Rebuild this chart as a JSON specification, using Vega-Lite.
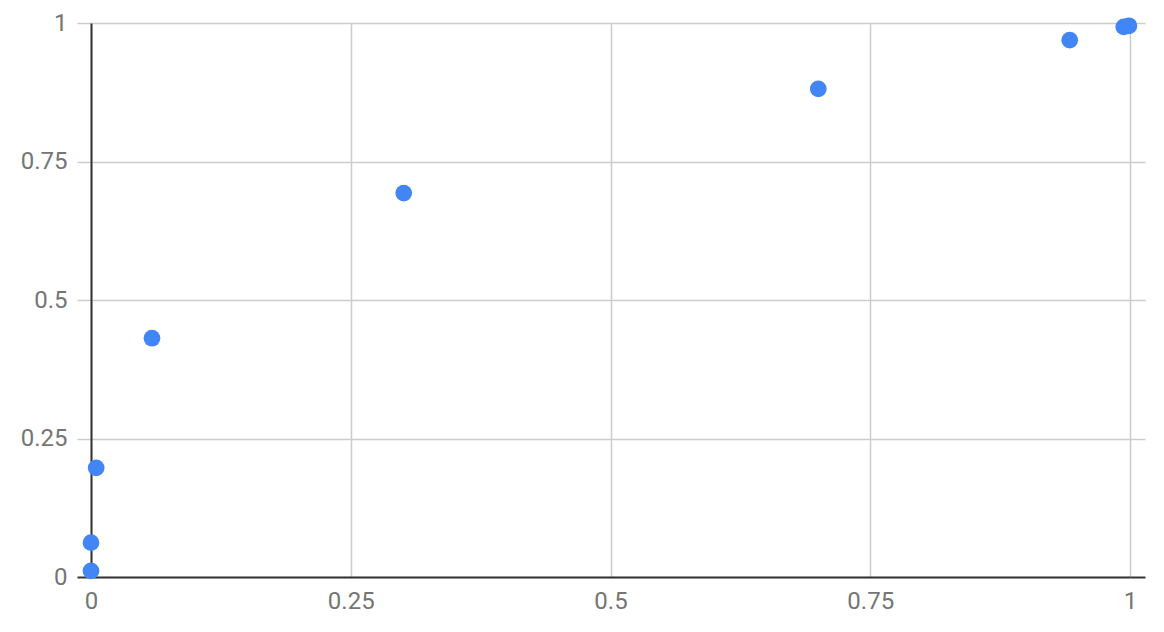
{
  "$schema": "https://vega.github.io/schema/vega-lite/v6.json",
  "width": 1039,
  "height": 554,
  "autosize": {"type": "none"},
  "padding": {"left": 91, "top": 23, "right": 34, "bottom": 55},
  "background": "white",
  "config": {
    "view": {"stroke": null},
    "font": "Roboto"
  },
  "data": {
    "values": [
      {"x": 0, "y": 0.011},
      {"x": 0, "y": 0.062},
      {"x": 0.005, "y": 0.197},
      {"x": 0.0587, "y": 0.431},
      {"x": 0.301, "y": 0.693},
      {"x": 0.7, "y": 0.881},
      {"x": 0.942, "y": 0.969},
      {"x": 0.994, "y": 0.993},
      {"x": 0.999, "y": 0.995}
    ]
  },
  "resolve": {"axis": {"y": "independent"}, "scale": {"y": "shared"}},
  "layer": [
    {
      "mark": {"type": "circle", "size": 280, "opacity": 1, "color": "#4285F4", "clip": false},
      "encoding": {
        "x": {
          "field": "x", "type": "quantitative",
          "scale": {"domain": [0, 1], "nice": false, "zero": false},
          "axis": {
            "title": null, "values": [0, 0.25, 0.5, 0.75, 1],
            "format": ".2~f", "labelFont": "Roboto", "labelFontSize": 24, "labelColor": "#757575",
            "ticks": false, "labelPadding": 12, "domainColor": "#333333", "domainWidth": 2,
            "grid": true, "gridColor": "#cccccc", "gridWidth": 1.5, "labelFlush": false
          }
        },
        "y": {
          "field": "y", "type": "quantitative",
          "scale": {"domain": [0, 1], "nice": false, "zero": false},
          "axis": {
            "title": null, "values": [0, 0.25, 0.5, 0.75, 1],
            "format": ".2~f", "labelFont": "Roboto", "labelFontSize": 24, "labelColor": "#757575",
            "ticks": true, "tickSize": 14,
            "tickColor": {"condition": {"test": "datum.value === 0", "value": "#333333"}, "value": "#cccccc"},
            "tickWidth": {"condition": {"test": "datum.value === 0", "value": 2}, "value": 1.5},
            "labelPadding": 10, "domainColor": "#333333", "domainWidth": 2,
            "grid": true, "gridColor": "#cccccc", "gridWidth": 1.5, "labelFlush": false
          }
        }
      }
    },
    {
      "mark": {"type": "circle", "size": 0, "opacity": 0, "color": "#4285F4"},
      "encoding": {
        "x": {
          "field": "x", "type": "quantitative",
          "scale": {"domain": [0, 1], "nice": false, "zero": false},
          "axis": {
            "title": null, "values": [0, 0.25, 0.5, 0.75, 1],
            "format": ".2~f", "labelFont": "Roboto", "labelFontSize": 24, "labelColor": "#757575",
            "ticks": false, "labelPadding": 12, "domainColor": "#333333", "domainWidth": 2,
            "grid": true, "gridColor": "#cccccc", "gridWidth": 1.5, "labelFlush": false
          }
        },
        "y": {
          "field": "y", "type": "quantitative",
          "scale": {"domain": [0, 1], "nice": false, "zero": false},
          "axis": {
            "orient": "right", "title": null, "values": [0, 0.25, 0.5, 0.75, 1],
            "labels": false, "domain": false, "grid": false,
            "ticks": true, "tickSize": 15,
            "tickColor": {"condition": {"test": "datum.value === 0", "value": "#333333"}, "value": "#cccccc"},
            "tickWidth": {"condition": {"test": "datum.value === 0", "value": 2}, "value": 1.5}
          }
        }
      }
    }
  ]
}
